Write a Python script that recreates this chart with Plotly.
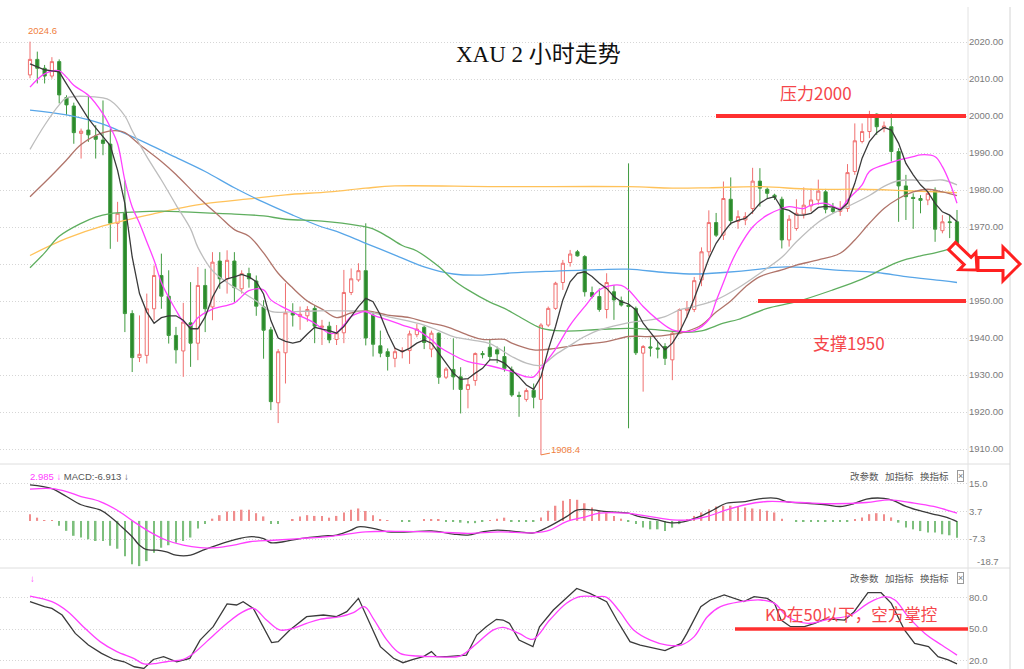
import math
import plotly.graph_objects as go

W, H = 1024, 669

# ---------------- data ----------------
N = 128
idx = list(range(N))
opens = [2011.1, 2015.3, 2012.9, 2010.8, 2014.7, 2005.0, 2002.7, 1995.3, 1996.2, 1994.6,
         1993.5, 1992.4, 1971.0, 1973.7, 1946.6, 1934.7, 1935.3, 1947.9, 1956.9, 1951.3,
         1940.7, 1936.5, 1944.1, 1938.6, 1954.2, 1948.4, 1960.8, 1956.0, 1960.8, 1953.3,
         1957.4, 1955.4, 1948.4, 1942.2, 1922.5, 1936.0, 1946.8, 1945.8, 1946.0, 1948.0,
         1942.9, 1943.2, 1939.6, 1941.4, 1952.3, 1955.7, 1958.2, 1946.2, 1937.9, 1936.3,
         1934.5, 1936.3, 1936.6, 1940.9, 1942.9, 1937.0, 1941.3, 1929.4, 1931.5, 1929.5,
         1926.1, 1928.5, 1935.8, 1937.5, 1936.8, 1935.0, 1931.4, 1924.5, 1923.4, 1925.9,
         1923.4, 1943.5, 1948.0, 1955.0, 1960.4, 1963.3, 1962.0, 1952.3, 1951.2, 1947.7,
         1952.5, 1950.1, 1948.9, 1948.0, 1935.9, 1937.6, 1937.3, 1937.7, 1934.1, 1941.3,
         1947.5, 1947.7, 1955.7, 1963.3, 1971.2, 1967.8, 1977.5, 1971.5, 1971.9, 1975.0,
         1982.4, 1980.2, 1978.6, 1977.5, 1966.5, 1969.6, 1973.5, 1975.7, 1977.3, 1979.5,
         1975.0, 1974.2, 1975.0, 1985.0, 1993.1, 1995.8, 2000.5, 1996.7, 1997.1, 1990.4,
         1981.1, 1978.0, 1977.7, 1977.3, 1979.8, 1969.0, 1971.4, 1971.4]
highs = [2020.1, 2017.4, 2013.8, 2015.9, 2015.3, 2005.6, 2003.6, 1996.6, 2005.6, 1997.5,
         2004.2, 1996.6, 1976.8, 1982.6, 1947.5, 1946.1, 1952.0, 1959.6, 1962.8, 1958.3,
         1943.0, 1949.5, 1955.1, 1959.2, 1958.7, 1963.2, 1963.2, 1963.7, 1963.2, 1958.3,
         1959.0, 1956.9, 1950.2, 1943.0, 1937.0, 1954.8, 1949.4, 1948.5, 1948.6, 1948.9,
         1944.9, 1944.4, 1943.5, 1958.4, 1958.8, 1960.2, 1971.0, 1947.1, 1942.0, 1937.2,
         1937.5, 1937.5, 1942.0, 1943.8, 1943.3, 1942.0, 1941.5, 1932.1, 1939.9, 1932.1,
         1929.0, 1936.1, 1936.5, 1939.5, 1937.7, 1937.7, 1932.3, 1925.5, 1926.4, 1927.7,
         1944.0, 1948.5, 1955.2, 1961.1, 1963.8, 1963.8, 1962.4, 1953.9, 1953.4, 1957.5,
         1954.3, 1951.2, 1987.2, 1948.5, 1938.1, 1940.4, 1939.0, 1938.6, 1941.7, 1948.0,
         1950.0, 1956.5, 1964.5, 1974.5, 1973.8, 1982.3, 1983.4, 1974.5, 1974.0, 1986.0,
         1985.9, 1980.7, 1979.0, 1978.2, 1973.2, 1977.5, 1980.7, 1980.4, 1982.8, 1980.3,
         1976.5, 1977.0, 1987.0, 1998.0, 1998.0, 2001.4, 2000.7, 1998.5, 2000.7, 1991.3,
         1984.1, 1979.1, 1978.6, 1979.8, 1980.7, 1973.2, 1973.2, 1974.6]
lows = [2010.2, 2008.8, 2008.8, 2010.1, 2003.4, 2000.2, 1992.5, 1988.5, 1993.0, 1988.5,
        1989.4, 1964.1, 1966.0, 1941.6, 1930.8, 1933.5, 1933.1, 1944.8, 1947.9, 1938.5,
        1933.1, 1929.5, 1932.2, 1934.0, 1941.6, 1944.8, 1953.3, 1952.0, 1949.7, 1952.0,
        1953.6, 1946.0, 1934.4, 1920.5, 1917.0, 1927.7, 1943.1, 1942.2, 1944.4, 1938.6,
        1938.1, 1938.6, 1938.1, 1938.6, 1951.6, 1955.2, 1938.0, 1935.0, 1934.8, 1931.2,
        1932.1, 1934.5, 1933.0, 1940.2, 1937.0, 1934.8, 1927.6, 1928.9, 1926.0, 1919.6,
        1921.0, 1927.1, 1934.5, 1934.0, 1933.2, 1930.9, 1924.1, 1918.7, 1922.8, 1921.0,
        1908.4, 1943.0, 1947.6, 1953.0, 1959.3, 1962.0, 1951.2, 1950.7, 1947.1, 1945.3,
        1944.9, 1948.5, 1915.6, 1935.4, 1925.5, 1935.0, 1934.5, 1932.7, 1928.6, 1941.0,
        1945.5, 1947.0, 1954.0, 1962.0, 1967.3, 1966.5, 1970.5, 1969.5, 1970.5, 1973.5,
        1975.5, 1977.7, 1977.3, 1964.2, 1964.7, 1969.0, 1972.3, 1974.2, 1976.0, 1973.7,
        1973.5, 1973.0, 1974.1, 1984.1, 1992.6, 1994.0, 1994.9, 1995.6, 1987.7, 1971.4,
        1971.9, 1969.5, 1973.7, 1975.9, 1966.0, 1968.3, 1967.0, 1962.7]
closes = [2015.3, 2012.9, 2010.8, 2014.7, 2005.7, 2003.0, 1995.5, 1995.9, 1994.9, 1993.7,
          1992.6, 1971.0, 1973.7, 1946.6, 1934.7, 1935.6, 1947.9, 1956.9, 1951.3, 1940.7,
          1936.8, 1944.3, 1938.6, 1954.2, 1947.9, 1960.5, 1956.0, 1961.0, 1953.6, 1957.4,
          1956.0, 1948.6, 1942.1, 1922.8, 1936.3, 1946.8, 1946.2, 1946.4, 1947.7, 1943.2,
          1943.2, 1939.5, 1941.4, 1952.3, 1956.0, 1958.2, 1940.0, 1938.3, 1935.9, 1935.0,
          1936.3, 1936.6, 1941.1, 1942.4, 1938.8, 1941.3, 1929.4, 1931.6, 1929.5, 1926.1,
          1927.4, 1935.8, 1935.5, 1935.0, 1935.7, 1931.8, 1924.6, 1924.2, 1925.8, 1924.0,
          1943.5, 1948.0, 1954.8, 1960.2, 1962.7, 1962.2, 1952.5, 1951.2, 1947.7, 1955.0,
          1950.3, 1948.9, 1948.5, 1936.0, 1937.7, 1937.3, 1937.0, 1934.5, 1941.3, 1947.7,
          1948.0, 1955.5, 1963.3, 1971.2, 1967.8, 1977.7, 1971.7, 1972.8, 1972.8, 1982.4,
          1980.5, 1979.1, 1978.0, 1966.5, 1972.1, 1973.7, 1975.9, 1977.3, 1979.7, 1974.8,
          1974.2, 1975.0, 1984.7, 1993.3, 1995.8, 2000.3, 1997.1, 1997.3, 1990.4, 1981.1,
          1978.2, 1977.7, 1977.2, 1979.1, 1969.4, 1971.4, 1971.2, 1963.3]

ma5 = [2014.1, 2013.3, 2012.5, 2012.2, 2011.9, 2008.7, 2005.6, 2002.5, 1999.3, 1996.8,
       1994.3, 1992.0, 1985.3, 1976.3, 1961.9, 1952.0, 1947.0, 1944.0, 1945.5, 1946.0,
       1946.0, 1944.8, 1942.5, 1942.5, 1945.7, 1951.0, 1954.7, 1956.0, 1956.5, 1957.2,
       1956.5, 1955.2, 1951.9, 1944.7, 1940.0, 1939.1, 1938.6, 1939.1, 1941.1, 1942.9,
       1942.4, 1942.0, 1941.3, 1943.1, 1945.8, 1948.5, 1950.7, 1949.8, 1946.2, 1941.3,
       1937.2, 1936.3, 1937.2, 1938.6, 1939.5, 1938.6, 1935.9, 1933.2, 1930.5, 1928.8,
       1929.0, 1930.5, 1931.8, 1934.1, 1934.1, 1933.2, 1931.4, 1929.5, 1927.3, 1926.1,
       1929.5, 1936.8, 1943.1, 1950.3, 1955.2, 1957.5, 1957.9, 1956.6, 1954.8, 1953.4,
       1951.2, 1949.8, 1949.2, 1947.6, 1944.0, 1941.4, 1939.0, 1936.8, 1938.6, 1941.7,
       1945.8, 1950.7, 1956.0, 1961.5, 1965.6, 1968.5, 1971.0, 1971.8, 1972.3, 1974.1,
       1976.4, 1977.7, 1978.2, 1975.0, 1974.5, 1973.2, 1973.2, 1973.7, 1975.3, 1975.6,
       1975.4, 1974.6, 1976.4, 1981.8, 1988.6, 1993.1, 1995.5, 1996.9, 1996.2, 1992.6,
       1987.2, 1984.1, 1981.4, 1979.5, 1976.4, 1974.1, 1973.2, 1971.4]

ma10_x = [0, 2, 4, 5, 6, 8, 10, 11, 12, 13, 14, 15, 16, 17, 18, 19, 20, 21, 22, 23, 25, 28, 30, 32,
          33, 35, 37, 39, 41, 42, 43, 44, 46, 47, 49, 51, 53, 55, 56, 58, 60, 63, 66, 68, 69, 70,
          72, 74, 76, 78, 80, 81, 82, 84, 86, 88, 90, 91, 93, 94, 95, 96, 97, 99, 101, 103, 104,
          106, 107, 109, 111, 112, 114, 115, 117, 119, 121, 122, 124, 125, 126, 127]
ma10_y = [2007.8, 2011.4, 2012.2, 2010.5, 2008.3, 2005.6, 2000.6, 1997.0, 1992.5, 1982.6, 1975.4,
          1971.0, 1966.0, 1961.0, 1955.0, 1951.0, 1947.5, 1944.5, 1943.3, 1945.5, 1947.8, 1949.5,
          1952.8, 1953.0, 1950.3, 1948.0, 1946.0, 1944.0, 1941.3, 1941.5, 1943.5, 1945.8, 1947.1,
          1946.2, 1944.9, 1943.5, 1942.2, 1939.5, 1937.7, 1935.4, 1933.6, 1932.5, 1930.9, 1929.5,
          1929.5, 1931.8, 1937.0, 1943.5, 1948.5, 1953.0, 1954.3, 1954.2, 1953.0, 1948.5, 1944.9,
          1942.2, 1941.7, 1942.0, 1945.0, 1950.0, 1955.0, 1960.0, 1964.0, 1970.0, 1973.2, 1975.0,
          1975.5, 1975.0, 1975.9, 1976.4, 1975.0, 1977.3, 1981.4, 1985.0, 1986.8, 1988.1, 1989.0,
          1989.5, 1989.0, 1986.3, 1982.0, 1976.4]

ma20_x = [0, 2, 4, 5, 10, 11, 13, 14, 16, 18, 20, 22, 23, 25, 27, 29, 31, 33, 37, 41, 44, 46, 49,
          54, 56, 58, 61, 63, 66, 68, 70, 72, 74, 76, 78, 81, 83, 85, 87, 89, 91, 94, 97, 100,
          103, 105, 108, 110, 112, 115, 117, 119, 121, 123, 125, 127]
ma20_y = [1991.0, 1997.5, 2003.0, 2004.9, 2004.9, 2004.2, 2000.0, 1996.0, 1989.0, 1982.7, 1976.0,
          1969.5, 1964.5, 1958.2, 1955.0, 1952.5, 1950.0, 1947.2, 1947.2, 1947.4, 1947.3, 1947.2,
          1945.8, 1943.5, 1942.0, 1940.4, 1939.3, 1938.5, 1935.0, 1933.2, 1932.6, 1935.5, 1938.0,
          1940.4, 1942.2, 1943.7, 1944.4, 1944.9, 1945.8, 1947.6, 1948.5, 1950.3, 1953.5, 1957.5,
          1961.8, 1966.0, 1971.3, 1973.7, 1975.5, 1978.5, 1981.0, 1982.5, 1982.7, 1982.5, 1982.7,
          1981.4]

ma30_x = [0, 3, 5, 7, 10, 12, 13, 15, 18, 20, 23, 26, 28, 30, 32, 34, 36, 38, 40, 42, 44, 46, 49,
          52, 54, 57, 60, 62, 65, 66, 69, 72, 75, 79, 82, 85, 88, 90, 92, 94, 96, 98, 100, 103,
          105, 108, 111, 113, 115, 117, 119, 121, 123, 125, 127]
ma30_y = [1978.2, 1984.0, 1988.1, 1992.3, 1995.5, 1996.0, 1995.5, 1992.3, 1987.7, 1984.2, 1978.2,
          1972.8, 1969.3, 1967.5, 1963.0, 1957.5, 1953.5, 1950.0, 1947.8, 1945.5, 1946.8, 1947.4,
          1946.2, 1945.5, 1944.4, 1943.1, 1940.8, 1939.6, 1939.6, 1938.6, 1936.8, 1937.2, 1938.1,
          1939.0, 1940.4, 1940.4, 1941.0, 1941.8, 1943.5, 1947.0, 1950.0, 1953.8, 1956.6, 1958.4,
          1959.7, 1961.1, 1962.9, 1966.5, 1971.0, 1975.0, 1977.7, 1979.5, 1980.2, 1979.5, 1978.5]

ma60_x = [0, 2, 4, 7, 9, 11, 14, 18, 21, 24, 28, 32, 35, 40, 45, 47, 49, 51, 53, 56, 58, 60, 63,
          65, 67, 70, 73, 78, 82, 86, 90, 92, 95, 97, 101, 105, 110, 114, 117, 119, 122, 124, 127]
ma60_y = [1959.0, 1963.0, 1967.5, 1971.0, 1972.7, 1973.6, 1974.0, 1974.3, 1974.1, 1973.8, 1973.5,
          1973.0, 1972.1, 1971.6, 1970.4, 1969.5, 1967.4, 1965.0, 1963.5, 1959.3, 1955.7, 1953.0,
          1949.7, 1948.0, 1945.8, 1942.7, 1941.9, 1942.3, 1942.6, 1942.2, 1941.5, 1941.9, 1944.0,
          1945.0, 1948.0, 1949.8, 1953.0, 1955.9, 1958.8, 1960.6, 1962.2, 1963.0, 1964.7]

ma120_x = [0, 5, 10, 13, 16, 20, 24, 28, 32, 36, 40, 42, 46, 50, 54, 58, 62, 66, 72, 78, 82, 87,
           91, 95, 100, 102, 106, 110, 116, 120, 125, 127]
ma120_y = [2001.6, 2000.3, 1997.8, 1995.3, 1992.6, 1988.8, 1985.0, 1980.6, 1976.7, 1973.2, 1970.0,
           1968.8, 1965.6, 1962.4, 1959.2, 1957.3, 1957.0, 1957.6, 1958.1, 1958.5, 1958.6, 1957.7,
           1957.3, 1957.7, 1958.6, 1959.1, 1959.1, 1958.4, 1957.7, 1956.6, 1955.5, 1955.0]

ma250_x = [0, 5, 10, 17, 24, 30, 35, 41, 46, 50, 64, 82, 88, 93, 100, 107, 114, 120, 127]
ma250_y = [1962.3, 1966.9, 1970.3, 1973.6, 1976.3, 1977.6, 1978.7, 1979.5, 1980.5, 1981.1, 1980.9,
           1980.9, 1980.5, 1980.6, 1980.9, 1980.2, 1980.2, 1979.8, 1979.3]

price_ticks = [1910, 1920, 1930, 1940, 1950, 1960, 1970, 1980, 1990, 2000, 2010, 2020]

# MACD
macd_hist = [2.7, 1.3, 0.3, 0.3, -2.0, -4.0, -6.0, -6.7, -7.4, -8.1,
             -8.1, -10.0, -11.2, -14.2, -17.5, -18.2, -16.2, -12.8, -10.8, -9.8,
             -8.8, -8.1, -6.7, -3.1, -1.3, 0.9, 2.3, 3.8, 4.0, 4.5,
             4.5, 3.1, 1.8, -1.3, -1.3, 0.0, 0.7, 1.8, 2.3, 2.0,
             2.0, 1.3, 2.0, 3.4, 4.5, 5.0, 4.0, 2.3, 0.7, 0.1,
             0.0, -0.4, -0.4, 0.0, 0.4, 0.7, 0.7, -0.4, -0.4, -0.7,
             -0.9, -0.9, -0.4, 0.3, 0.9, 1.3, -0.4, -0.4, -0.4, -0.4,
             1.4, 4.1, 6.1, 8.1, 8.8, 8.5, 7.1, 5.4, 4.1, 3.1,
             2.0, 0.9, -0.4, -1.3, -2.7, -3.4, -3.4, -4.1, -2.7, -1.3,
             0.7, 2.0, 3.4, 4.7, 5.8, 6.1, 6.1, 5.8, 5.4, 5.0,
             4.7, 4.1, 3.4, 0.9, 0.0, -0.4, -0.4, -0.4, -0.4, -0.4,
             -0.4, -0.4, -0.4, 0.4, 1.4, 2.7, 3.1, 2.7, 1.4, -0.7,
             -2.7, -3.4, -4.1, -4.7, -4.7, -5.4, -5.8, -6.8]
dif_x = [0, 3, 5, 7, 9.6, 11, 12.3, 14, 15, 16, 17.4, 18.7, 20, 22, 23.7, 27, 30, 32, 33, 34.7,
         37, 40, 42, 44, 45, 47, 49, 52, 55, 58, 60, 62, 64, 67, 69, 71, 73.5, 75, 77, 79, 82,
         83.5, 86, 87.6, 89.5, 91.7, 93.6, 95.4, 98, 100.4, 102.3, 103.6, 106.4, 109, 111, 112.8,
         114.6, 117, 118.3, 120, 122.4, 124.2, 125.6, 127]
dif_y = [14.5, 13.0, 9.8, 6.5, 4.4, 1.7, -1.7, -6.4, -9.8, -11.6, -11.8, -12.5, -13.8, -13.8,
         -11.8, -8.4, -6.4, -7.1, -8.8, -8.4, -7.1, -6.1, -5.7, -3.7, -2.4, -3.0, -4.4, -4.4,
         -4.0, -5.3, -5.7, -4.4, -3.7, -4.4, -4.8, -2.4, 1.7, 4.4, 4.4, 3.7, 3.1, 1.7, 0.4,
         -0.7, -0.4, 1.7, 4.4, 7.1, 7.8, 9.1, 9.1, 7.8, 7.1, 6.5, 5.8, 6.9, 8.8, 9.1, 8.2, 5.8,
         3.7, 2.4, 1.4, -0.3]
dea_x = [0, 3, 5, 7, 9.6, 11.9, 14.2, 16.4, 18.7, 21, 23.3, 25.6, 27.9, 30.1, 33.3, 37, 41.5,
         46, 51, 55, 60, 64.4, 69, 71.2, 73.5, 75.8, 78, 81.7, 85, 88, 90.4, 92.7, 95.4, 98,
         101, 105.5, 110, 114.6, 117.8, 120.6, 123.8, 127]
dea_y = [12.8, 13.0, 11.8, 9.8, 7.8, 4.4, -0.3, -4.4, -7.8, -9.8, -10.8, -10.8, -9.8, -8.4, -7.8,
         -7.1, -6.1, -4.4, -4.2, -4.4, -5.0, -4.4, -4.8, -3.7, -0.3, 1.4, 3.1, 3.1, 1.7, 0.4, 0.4,
         1.7, 4.4, 6.5, 7.8, 7.4, 6.9, 7.4, 8.5, 7.4, 5.8, 3.1]
macd_ticks = [15.0, 3.7, -7.3, -18.7]

# KD
k_x = [0, 2, 3, 4.4, 6.2, 8, 9.8, 11.5, 12.9, 14.3, 15.6, 16.9, 18.3, 20.1, 21.9, 23.3, 25.1, 27,
       28.3, 29.2, 30.6, 31.9, 33.1, 34, 35.6, 37.9, 40.2, 42, 43.4, 45, 46.1, 48, 49.8, 51.1,
       52.5, 53.9, 55, 55.7, 57.1, 59.8, 61.2, 62.5, 63.9, 64.8, 65.7, 67, 68.9, 69.8, 71.7,
       74.9, 76.7, 79, 80.4, 82.2, 83.6, 85.9, 87, 89.2, 90, 91.9, 93.2, 95.1, 96.4, 97.8, 99.2,
       101, 102, 102.9, 104.2, 106.1, 107.5, 108.8, 110.2, 111.6, 112.9, 114.8, 116.6, 118,
       119.8, 121.2, 123.1, 124.4, 125.8, 127]
k_y = [76.2, 71.4, 69.8, 63.4, 45.8, 34.6, 26.6, 20.8, 18.6, 13.8, 12.2, 20.8, 23.5, 18.6, 21.8,
       39.4, 52.2, 74.0, 73.0, 76.2, 69.8, 52.2, 36.9, 37.9, 49.1, 61.8, 63.4, 61.8, 66.6, 79.4,
       61.8, 33.1, 21.9, 17.7, 20.8, 23.5, 28.3, 23.5, 23.5, 25.0, 44.2, 52.2, 59.3, 58.6, 55.4,
       39.4, 33.1, 52.2, 68.2, 88.9, 84.1, 76.2, 58.6, 37.9, 34.6, 31.4, 29.2, 36.2, 45.8, 71.4,
       77.8, 82.6, 79.4, 76.2, 81.0, 79.4, 74.6, 58.6, 52.2, 52.2, 55.4, 59.3, 59.3, 58.6, 66.6,
       84.8, 84.8, 74.6, 49.1, 36.2, 33.1, 23.5, 20.3, 16.5]
d_x = [0, 3, 5.2, 7.3, 9.6, 11.9, 14.2, 15.6, 17.4, 18.7, 21, 22.4, 24.2, 27, 28.8, 30.6, 32.4,
       34.2, 36.1, 37.9, 39.7, 42.5, 44.3, 45.8, 47.1, 48.9, 50.7, 53.1, 55.3, 58.9, 60.7, 63.5,
       64.8, 67, 68.9, 71.2, 73.5, 75.3, 77.6, 79, 80.8, 82.7, 85, 87.3, 89.2, 91, 92.8, 94.6,
       97.4, 100.1, 102, 103.8, 106.6, 109.3, 112.5, 114.8, 117.1, 118.5, 120.3, 122.6, 124.9, 127]
d_y = [81.6, 76.2, 66.6, 52.2, 37.9, 28.3, 21.9, 16.5, 17.1, 18.6, 20.8, 26.6, 37.9, 55.4, 65.0,
       69.8, 58.6, 49.1, 50.7, 55.4, 59.3, 61.8, 65.7, 71.4, 59.3, 39.4, 26.6, 24.1, 23.5, 24.1,
       33.1, 49.1, 51.5, 45.8, 40.1, 58.6, 74.6, 81.0, 81.0, 80.4, 66.6, 49.1, 39.4, 34.6, 34.6,
       42.7, 61.8, 71.4, 76.2, 77.8, 74.6, 61.8, 55.4, 59.3, 63.4, 74.6, 81.0, 77.8, 61.8, 45.8,
       34.6, 25.0]
kd_ticks = [80.0, 50.0, 20.0]

resistance = 2000
support = 1950
kd_level = 50
low_label = 1908.4

# ---------------- pixel geometry helpers ----------------
X0, DX = 30.0, (957.0 - 30.0) / 127.0
PLOT_R = 968.0


def fx(x):
    return x / W


def fy(y):
    return 1 - y / H


def price_at(y):
    return 2000 - (y - 116) / 3.7


def macd_at(y):
    return 3.7 - (y - 511.7) / 2.484


def kd_at(y):
    return 50 - (y - 629) / 1.043


xrange_ = [(0 - X0) / DX, (PLOT_R - X0) / DX]
xdom = [0, PLOT_R / W]

fig = go.Figure()

# moving averages (drawn under candles)
ma_styles = [
    (ma250_x, ma250_y, "#ffc25a"),
    (ma120_x, ma120_y, "#58a6e8"),
    (ma60_x, ma60_y, "#5fae5f"),
    (ma30_x, ma30_y, "#b0746a"),
    (ma20_x, ma20_y, "#bdbdbd"),
]
for xs, ys, col in ma_styles:
    fig.add_trace(go.Scatter(x=xs, y=ys, mode="lines", line=dict(color=col, width=1.3),
                             line_shape="spline", hoverinfo="skip", xaxis="x", yaxis="y"))

fig.add_trace(go.Candlestick(
    x=idx, open=opens, high=highs, low=lows, close=closes,
    increasing=dict(line=dict(color="#f07070", width=1), fillcolor="#ffffff"),
    decreasing=dict(line=dict(color="#3f9a3f", width=1), fillcolor="#2b8a2b"),
    whiskerwidth=0, hoverinfo="skip", xaxis="x", yaxis="y"))

fig.add_trace(go.Scatter(x=ma10_x, y=ma10_y, mode="lines", line=dict(color="#ff40ff", width=1.3),
                         line_shape="spline", hoverinfo="skip", xaxis="x", yaxis="y"))
fig.add_trace(go.Scatter(x=idx, y=ma5, mode="lines", line=dict(color="#3a3a3a", width=1.3),
                         hoverinfo="skip", xaxis="x", yaxis="y"))

# MACD
hist_colors = ["#f08c8c" if v >= 0 else "#7dbf7d" for v in macd_hist]
fig.add_trace(go.Bar(x=idx, y=macd_hist, marker=dict(color=hist_colors, line=dict(width=0)),
                     width=0.22, hoverinfo="skip", xaxis="x2", yaxis="y2"))
fig.add_trace(go.Scatter(x=dif_x, y=dif_y, mode="lines", line=dict(color="#3a3a3a", width=1.3),
                         line_shape="spline", hoverinfo="skip", xaxis="x2", yaxis="y2"))
fig.add_trace(go.Scatter(x=dea_x, y=dea_y, mode="lines", line=dict(color="#ff40ff", width=1.3),
                         line_shape="spline", hoverinfo="skip", xaxis="x2", yaxis="y2"))

# KD
fig.add_trace(go.Scatter(x=k_x, y=k_y, mode="lines", line=dict(color="#3a3a3a", width=1.3),
                         hoverinfo="skip", xaxis="x3", yaxis="y3"))
fig.add_trace(go.Scatter(x=d_x, y=d_y, mode="lines", line=dict(color="#ff40ff", width=1.3),
                         line_shape="spline", hoverinfo="skip", xaxis="x3", yaxis="y3"))

tickfont = dict(family="Liberation Sans", size=9.5, color="#7a7a7a")
grid = dict(showgrid=True, gridcolor="#d6d6d6", gridwidth=1, griddash="1px,2px",
            zeroline=False, ticks="", side="right", showline=False, tickfont=tickfont)
xcommon = dict(domain=xdom, range=xrange_, showticklabels=False, showgrid=False,
               zeroline=False, showline=False, fixedrange=True)

shapes = []
# panel borders
for yy in (464, 568):
    shapes.append(dict(type="line", xref="paper", yref="paper", x0=0, x1=fx(1010),
                       y0=fy(yy), y1=fy(yy), line=dict(color="#dedede", width=1)))
shapes.append(dict(type="line", xref="paper", yref="paper", x0=fx(968), x1=fx(968),
                   y0=fy(7), y1=0, line=dict(color="#e2e2e2", width=1)))
shapes.append(dict(type="line", xref="paper", yref="paper", x0=fx(1010), x1=fx(1010),
                   y0=fy(7), y1=0, line=dict(color="#d4d4d4", width=1)))
# resistance / support / KD level lines
shapes.append(dict(type="line", xref="paper", yref="y", x0=fx(716), x1=fx(966),
                   y0=resistance, y1=resistance, line=dict(color="#ff3030", width=4)))
shapes.append(dict(type="line", xref="paper", yref="y", x0=fx(758), x1=fx(966),
                   y0=support, y1=support, line=dict(color="#ff3030", width=4)))
shapes.append(dict(type="line", xref="paper", yref="y3", x0=fx(735), x1=fx(968),
                   y0=kd_level, y1=kd_level, line=dict(color="#ff3030", width=3.5)))


def arrow_path(tail, tip, shw, hhw, hlen):
    (x0, y0), (x1, y1) = tail, tip
    L = math.hypot(x1 - x0, y1 - y0)
    ux, uy = (x1 - x0) / L, (y1 - y0) / L
    nx, ny = -uy, ux
    bx, by = x1 - ux * hlen, y1 - uy * hlen
    pts = [(x0 + nx * shw, y0 + ny * shw), (bx + nx * shw, by + ny * shw),
           (bx + nx * hhw, by + ny * hhw), (x1, y1),
           (bx - nx * hhw, by - ny * hhw), (bx - nx * shw, by - ny * shw),
           (x0 - nx * shw, y0 - ny * shw)]
    return "M " + " L ".join(f"{fx(a):.5f},{fy(b):.5f}" for a, b in pts) + " Z"


for tail, tip, shw, hhw, hl in [((952, 246), (977, 270), 5, 12, 13),
                                ((978, 264), (1020, 264), 6.5, 17, 17)]:
    shapes.append(dict(type="path", xref="paper", yref="paper",
                       path=arrow_path(tail, tip, shw, hhw, hl),
                       line=dict(color="#ff2020", width=3), fillcolor="#ffffff"))

cjk = "Noto Sans CJK SC"
ann = []


def label(text, x, y, size, color, family=cjk, xanchor="center", **kw):
    ann.append(dict(text=text, x=fx(x), y=fy(y), xref="paper", yref="paper",
                    xanchor=xanchor, yanchor="middle", showarrow=False,
                    font=dict(family=family, size=size, color=color), **kw))


label("XAU 2 小时走势", 538, 55, 23, "#111111", family="Liberation Serif, " + cjk)
label("压力2000", 816, 93, 17, "#f5454a")
label("支撑1950", 849, 342, 17, "#f5454a")
label("KD在50以下，空方掌控", 851, 614, 16.5, "#f5454a")
label("2024.6", 42, 30, 9.5, "#f08040", family="Liberation Sans")
ann.append(dict(text="1908.4", x=70, y=low_label, xref="x", yref="y", ax=25, ay=-5,
                showarrow=True, arrowhead=0, arrowwidth=1, arrowcolor="#f08040",
                font=dict(family="Liberation Sans", size=9.5, color="#f08040")))
label('<span style="color:#ff40ff">2.985 ↓</span> '
      '<span style="color:#555555">MACD:-6.913 ↓</span>', 28, 476, 9.5, "#555555",
      family="Liberation Sans", xanchor="left")
label("↓", 28, 578, 9.5, "#ff40ff", family="Liberation Sans", xanchor="left")
for yy in (476, 578):
    for xc, word in ((864, "改参数"), (899, "加指标"), (934.5, "换指标")):
        label(word, xc, yy, 9.5, "#555555")
    label("×", 960, yy, 9, "#777777", family="Liberation Sans",
          bordercolor="#9a9a9a", borderwidth=1, borderpad=0)
label("-18.7", 975, 561, 9.5, "#7a7a7a", family="Liberation Sans", xanchor="left")

fig.update_layout(
    width=W, height=H, margin=dict(l=0, r=0, t=0, b=0),
    paper_bgcolor="#ffffff", plot_bgcolor="#ffffff", showlegend=False,
    boxgap=0.38,
    xaxis=dict(anchor="y", rangeslider=dict(visible=False), **xcommon),
    xaxis2=dict(anchor="y2", matches="x", **xcommon),
    xaxis3=dict(anchor="y3", matches="x", **xcommon),
    yaxis=dict(domain=[fy(464), fy(7)], range=[price_at(464), price_at(7)], anchor="x",
               tickvals=price_ticks, ticktext=[f"{v:.2f}" for v in price_ticks], **grid),
    yaxis2=dict(domain=[fy(568), fy(464)], range=[macd_at(568), macd_at(464)], anchor="x2",
                tickvals=macd_ticks, ticktext=["15.0", "3.7", "-7.3", ""], **grid),
    yaxis3=dict(domain=[0, fy(568)], range=[kd_at(669), kd_at(568)], anchor="x3",
                tickvals=kd_ticks, ticktext=[f"{v:.1f}" for v in kd_ticks], **grid),
    shapes=shapes, annotations=ann,
)

fig.write_html("out.html", config={"displayModeBar": False},
               post_script="document.body.style.margin='0px';"
                           "document.body.style.overflow='hidden';")
